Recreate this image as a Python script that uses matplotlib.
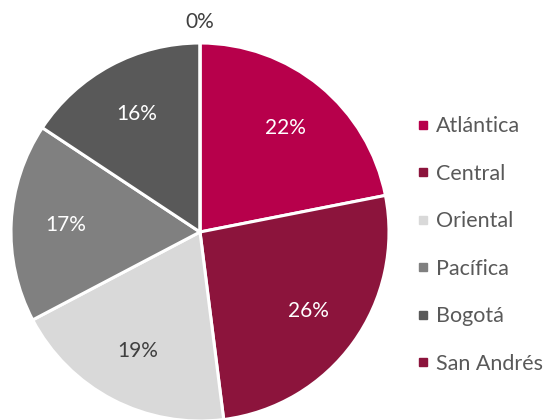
import matplotlib
matplotlib.use("Agg")
import matplotlib.pyplot as plt
from matplotlib.lines import Line2D

categories = ["Atlántica", "Central", "Oriental", "Pacífica", "Bogotá", "San Andrés"]
values = [21.9, 26.1, 19.3, 17.0, 15.7, 0.0]
colors = ["#B7004B", "#8C143C", "#D9D9D9", "#808080", "#595959", "#8C143C"]
label_colors = ["white", "white", "#404040", "white", "white", "#404040"]

plt.rcParams['font.family'] = ['Lato', 'DejaVu Sans']

W, H = 544, 420
fig = plt.figure(figsize=(W / 100, H / 100), dpi=100)
cx, cy, R = 200, 232, 189
ax = fig.add_axes([(cx - R) / W, (H - cy - R) / H, 2 * R / W, 2 * R / H])

wedges, texts, autotexts = ax.pie(
    values, colors=colors, startangle=90, counterclock=False,
    autopct=lambda p: f"{p:.0f}%", pctdistance=0.71,
    wedgeprops=dict(edgecolor="white", linewidth=2.2),
    textprops=dict(fontsize=15),
)
for t, c in zip(autotexts, label_colors):
    t.set_color(c)
autotexts[-1].set_position((0, 1.11))
ax.set_xlim(-1, 1)
ax.set_ylim(-1, 1)

handles = [Line2D([], [], marker='s', linestyle='none', markersize=6,
                  markerfacecolor=c, markeredgecolor=c) for c in colors]
fig.legend(handles, categories, loc='center left',
           bbox_to_anchor=(406 / W, 1 - 245 / H), frameon=False,
           fontsize=15.5, labelcolor="#595959", handlelength=0.6,
           handletextpad=0.3, labelspacing=1.28, borderpad=0)

fig.savefig("out.png", dpi=100)
